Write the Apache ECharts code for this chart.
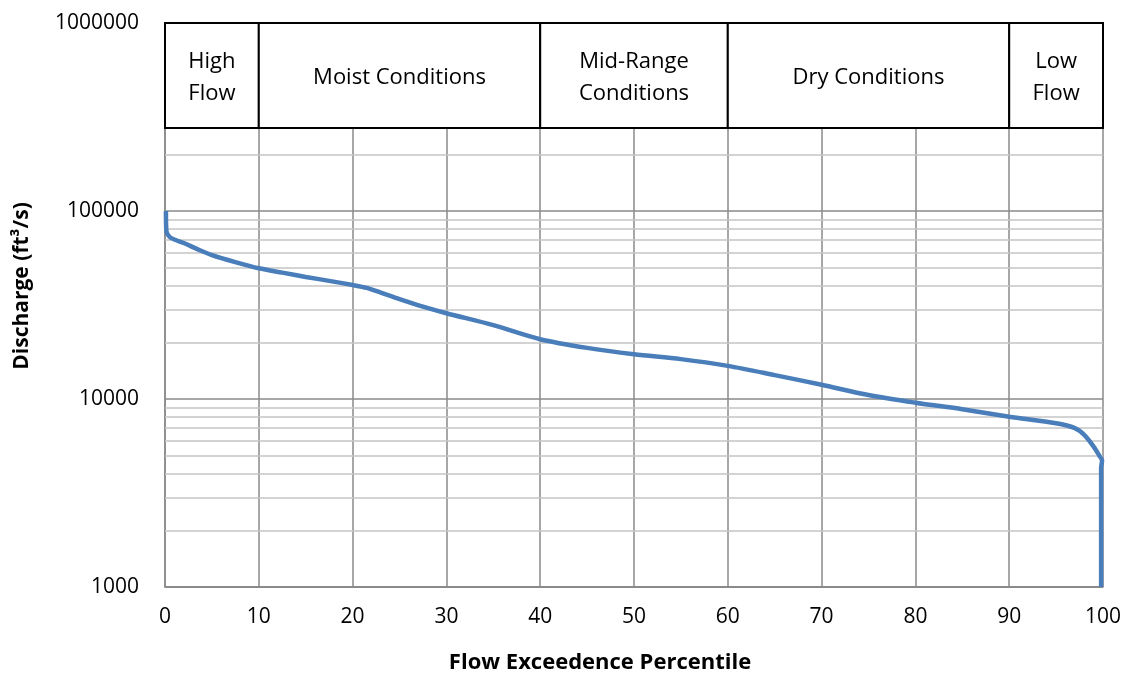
<!DOCTYPE html>
<html><head><meta charset="utf-8">
<script src="https://cdn.jsdelivr.net/npm/echarts@6/dist/echarts.min.js"></script>
<style>html,body{margin:0;padding:0;background:#fff}#c{width:1127px;height:676px}</style>
</head><body><div id="c"></div>
<script>
// Flow duration curve: exceedance percentile vs discharge (ft3/s)
const percentile = [0.1, 0.15, 0.5, 1, 2, 3.5, 5, 7.5, 10, 12.5, 15, 17.5, 20, 21.5, 23, 25, 27.5, 30, 35, 40, 45, 50, 55, 60, 65, 70, 75, 80, 85, 90, 95, 97, 98, 99, 99.6, 99.9, 99.8, 99.8];
const discharge = [100000, 78000, 72700, 70500, 67600, 62500, 58300, 53500, 49600, 47000, 44600, 42500, 40400, 39000, 36800, 34000, 31000, 28600, 24700, 20800, 18700, 17300, 16300, 15000, 13400, 11900, 10500, 9560, 8820, 8050, 7430, 7000, 6440, 5580, 5000, 4700, 4300, 1000];
const xTicks = [0, 10, 20, 30, 40, 50, 60, 70, 80, 90, 100];
const yTicks = [1000, 10000, 100000, 1000000];
const minorLines = [2000, 3000, 4000, 5000, 6000, 7000, 8000, 9000, 20000, 30000, 40000, 50000, 60000, 70000, 80000, 90000, 200000];
const zoneNames = ['High\nFlow', 'Moist Conditions', 'Mid-Range\nConditions', 'Dry Conditions', 'Low\nFlow'];
const zoneBounds = [0, 10, 40, 60, 90, 100];
const zoneBottom = 276000;

const FONT = 'Open Sans';
const chart = echarts.init(document.getElementById('c'));
const zoneData = zoneNames.map((n, i) => [
  {xAxis: zoneBounds[i], yAxis: zoneBottom, name: n},
  {xAxis: zoneBounds[i + 1], yAxis: 1000000}
]);
chart.setOption({
  animation: false,
  textStyle: {fontFamily: FONT},
  grid: {left: 165, right: 24, top: 23, bottom: 89},
  xAxis: {
    type: 'value', min: 0, max: 100, interval: 10,
    axisLine: {lineStyle: {color: '#888', width: 1.5}},
    axisTick: {show: false},
    axisLabel: {color: '#000', fontSize: 21, fontFamily: FONT, margin: 20,
      formatter: v => xTicks.includes(v) ? String(v) : ''},
    splitLine: {show: true, lineStyle: {color: '#8a8a8a', width: 1.5}}
  },
  yAxis: {
    type: 'log', logBase: 10, min: 1000, max: 1000000,
    axisLine: {show: true, lineStyle: {color: '#888', width: 1.5}},
    axisTick: {show: false},
    axisLabel: {color: '#000', fontSize: 21, fontFamily: FONT, margin: 26,
      formatter: v => yTicks.includes(Math.round(v)) ? String(Math.round(v)) : ''},
    splitLine: {show: true, lineStyle: {color: '#8a8a8a', width: 1.5}}
  },
  graphic: [
    {type: 'text', x: 22, y: 286, rotation: Math.PI / 2,
      style: {text: 'Discharge (ft³/s)', fontSize: 21, fontWeight: 'bold', fontFamily: FONT, fill: '#000', align: 'center', verticalAlign: 'middle'}},
    {type: 'text', x: 600, y: 663,
      style: {text: 'Flow Exceedence Percentile', fontSize: 22, fontWeight: 'bold', fontFamily: FONT, fill: '#000', align: 'center', verticalAlign: 'middle'}}
  ],
  series: [{
    type: 'line',
    data: percentile.map((p, i) => [p, discharge[i]]),
    showSymbol: false,
    smooth: 0.3,
    lineStyle: {color: '#4a7ebb', width: 4.5},
    z: 5,
    markLine: {
      silent: true, symbol: 'none', label: {show: false},
      lineStyle: {color: '#c4c4c4', width: 1.5, type: 'solid'},
      data: minorLines.map(v => ({yAxis: v}))
    },
    markArea: {
      silent: true,
      itemStyle: {color: '#fff', borderColor: '#000', borderWidth: 2},
      label: {show: true, position: 'inside', color: '#000', fontSize: 22, fontFamily: FONT, lineHeight: 32, offset: [0, 2]},
      data: zoneData
    }
  }]
});
</script></body></html>
